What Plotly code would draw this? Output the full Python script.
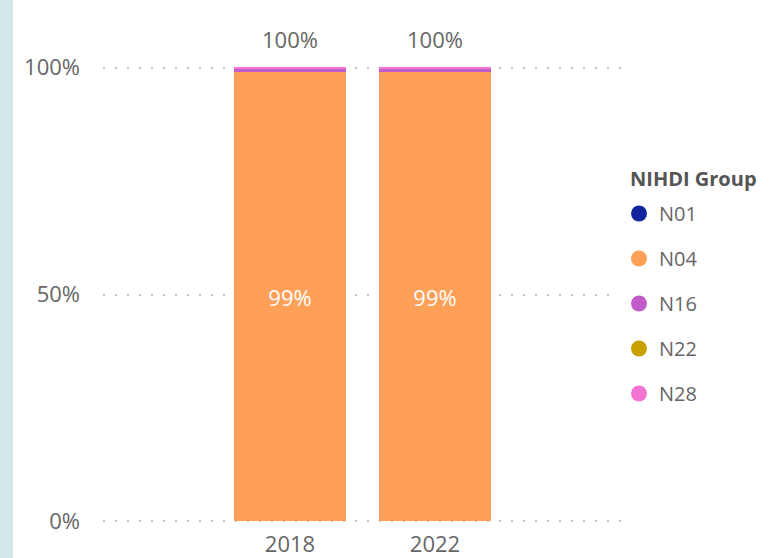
import plotly.graph_objects as go

years = ["2018", "2022"]
groups = ["N01", "N04", "N16", "N22", "N28"]
colors = ["#12239E", "#FFA058", "#C15CC8", "#C7A000", "#F472D0"]
# share of each NIHDI group per year (%)
n01 = [0.0, 0.0]
n04 = [99.1, 99.0]
n16 = [0.68, 0.85]
n22 = [0.0, 0.0]
n28 = [0.22, 0.15]
series = [n01, n04, n16, n22, n28]
totals = [100, 100]
total_labels = ["100%", "100%"]
seg_labels = ["99%", "99%"]

FONT = "Open Sans"
GREY = "#666666"

fig = go.Figure()
for name, vals, col in zip(groups, series, colors):
    fig.add_trace(go.Bar(
        x=years, y=vals, name=name, marker_color=col, marker_line_width=0,
        showlegend=False, legendgroup=name,
        text=seg_labels if name == "N04" else None,
        textposition="inside", insidetextanchor="middle",
        textfont=dict(color="white", size=22, family=FONT),
        hoverinfo="skip",
    ))
    # circle marker for the legend
    fig.add_trace(go.Scatter(
        x=[None], y=[None], mode="markers", name=name, legendgroup=name,
        marker=dict(color=col, size=30, symbol="circle"),
    ))

# total labels above the bars
for i, (tot, lab) in enumerate(zip(totals, total_labels)):
    fig.add_annotation(xref="x", yref="y", x=i, y=tot, text=lab, showarrow=False,
                       yanchor="bottom", yshift=12,
                       font=dict(color=GREY, size=22, family=FONT))

# plot area: 103..622 px wide, 65..524 px tall
PW, PH = 519, 459
# legend title as separate text
fig.add_annotation(xref="paper", yref="paper", x=(628 - 103) / PW, y=(524 - 178) / PH,
                   xanchor="left", yanchor="middle", showarrow=False,
                   text="<b>NIHDI Group</b>", font=dict(size=20, color="#555555", family=FONT))

fig.update_layout(
    width=771, height=558,
    margin=dict(l=103, r=149, t=65, b=34, autoexpand=False),
    barmode="stack", bargap=0.234,
    plot_bgcolor="white", paper_bgcolor="white",
    font=dict(family=FONT, color=GREY),
    legend=dict(
        x=(619 - 103) / PW, y=(524 - 194) / PH, xanchor="left", yanchor="top",
        font=dict(size=20, color=GREY),
        traceorder="grouped", tracegroupgap=16, itemwidth=30,
    ),
    shapes=[dict(type="rect", xref="paper", yref="paper",
                 x0=-103 / PW, x1=-90 / PW, y0=-34 / PH, y1=1 + 65 / PH,
                 fillcolor="#D1E7EA", line_width=0, layer="below")],
)
fig.update_xaxes(type="category", range=[-1.29, 2.29], showgrid=False, zeroline=False,
                 tickfont=dict(size=22, color=GREY), ticklabelstandoff=5)
fig.update_yaxes(range=[-0.6, 100.6], tickvals=[0, 50, 100], ticktext=["0%", "50%", "100%"],
                 showgrid=True, gridcolor="#C4C4C4", griddash="2px,10px", gridwidth=1.5,
                 zeroline=False, tickfont=dict(size=22, color=GREY),
                 ticklabelstandoff=22)

fig.write_html("out.html", config={"displayModeBar": False},
               post_script="document.body.style.margin='0';")
